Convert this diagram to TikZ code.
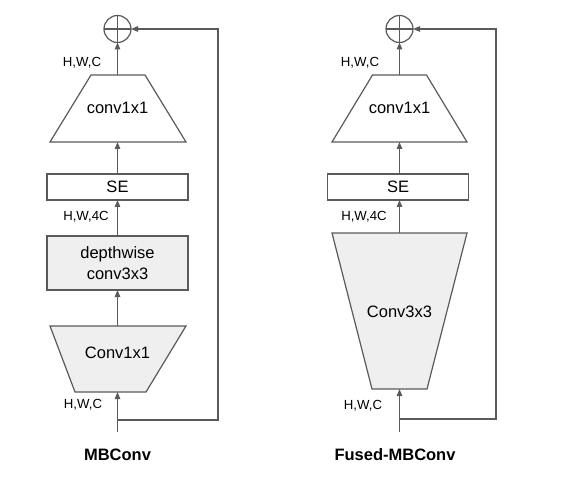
\documentclass[tikz,border=0pt]{standalone}
\usepackage{fontspec}
\setmainfont{Liberation Sans}
\usetikzlibrary{arrows.meta}
\definecolor{ln}{HTML}{5A5A5A}
\definecolor{fl}{HTML}{EFEFEF}
\begin{document}
\begin{tikzpicture}[x=1pt,y=-1pt,
  every node/.style={inner sep=0pt,outer sep=0pt},
  blk/.style={draw=ln,line width=1.2pt,font=\fontsize{16.5}{21.5}\selectfont,align=center},
  boxn/.style={blk,rectangle,minimum width=141pt},
  trapd/.style={draw=ln,line width=1.2pt,line join=miter},
  txt/.style={font=\fontsize{16.5}{19.5}\selectfont},
  lbl/.style={font=\fontsize{13.2}{15}\selectfont},
  ttl/.style={font=\fontsize{16.5}{19}\selectfont\bfseries},
  con/.style={draw=ln,line width=1.2pt,-{Triangle[length=7pt,width=5.5pt]}},
  ln/.style={draw=ln,line width=1.2pt},
  addn/.style={circle,draw=ln,line width=1.2pt,minimum size=27pt}
]
\useasboundingbox (0,0) rectangle (562,478);
% ---------------- MBConv ----------------
\node[addn] (addA) at (117.5,29) {};
\draw[ln] (addA.north) -- (addA.south) (addA.west) -- (addA.east);
% upper trapezoid
\coordinate (upAt) at (117.5,75);
\coordinate (upAb) at (117.5,142);
\path[trapd,fill=white] (91,75) -- (145,75) -- (186,142) -- (50,142) -- cycle;
\node[txt] (upA) at (117.5,108) {conv1x1};
\node[boxn,fill=white,minimum height=26pt] (seA) at (117.5,187) {SE};
\node[boxn,fill=fl,minimum height=54pt] (dwA) at (117.5,263) {depthwise\\conv3x3};
% lower trapezoid
\coordinate (dnAt) at (117.5,326);
\coordinate (dnAb) at (117.5,392);
\path[trapd,fill=fl] (50,326) -- (186,326) -- (146,392) -- (75,392) -- cycle;
\node[txt] (dnA) at (117.5,353) {Conv1x1};
\coordinate (inA) at (117.5,432);
\coordinate (brA) at (117.5,420);
\coordinate (rA) at (218,420);
\coordinate (tA) at (218,29);
\draw[con] (inA) -- (dnAb);
\draw[con] (dnAt) -- (dwA.south);
\draw[con] (dwA.north) -- (seA.south);
\draw[con] (seA.north) -- (upAb);
\draw[con] (upAt) -- (addA.south);
\draw[con] (brA) -- (rA) -- (tA) -- (addA.east);
\node[lbl] at (82,63) {H,W,C};
\node[lbl] at (86,217) {H,W,4C};
\node[lbl] at (83,405) {H,W,C};
\node[ttl] at (117.5,455) {MBConv};
% ---------------- Fused-MBConv ----------------
\node[addn] (addB) at (399.5,29) {};
\draw[ln] (addB.north) -- (addB.south) (addB.west) -- (addB.east);
\coordinate (upBt) at (399.5,75);
\coordinate (upBb) at (399.5,142);
\path[trapd,fill=white] (372.5,75) -- (426.5,75) -- (467,142) -- (332,142) -- cycle;
\node[txt] (upB) at (399.5,108) {conv1x1};
\node[boxn,fill=white,minimum height=26pt] (seB) at (398,187) {SE};
\coordinate (dnBt) at (399.5,233);
\coordinate (dnBb) at (399.5,389);
\path[trapd,fill=fl] (332,233) -- (467,233) -- (427,389) -- (372,389) -- cycle;
\node[txt] (dnB) at (399.5,312) {Conv3x3};
\coordinate (inB) at (399.5,432);
\coordinate (brB) at (399.5,419);
\coordinate (rB) at (496,419);
\coordinate (tB) at (496,29);
\draw[con] (inB) -- (dnBb);
\draw[con] (dnBt) -- (seB.south -| dnBt);
\draw[con] (seB.north -| upBb) -- (upBb);
\draw[con] (upBt) -- (addB.south);
\draw[con] (brB) -- (rB) -- (tB) -- (addB.east);
\node[lbl] at (360,63) {H,W,C};
\node[lbl] at (364,217) {H,W,4C};
\node[lbl] at (363,406) {H,W,C};
\node[ttl] at (395,455) {Fused-MBConv};
\end{tikzpicture}
\end{document}
